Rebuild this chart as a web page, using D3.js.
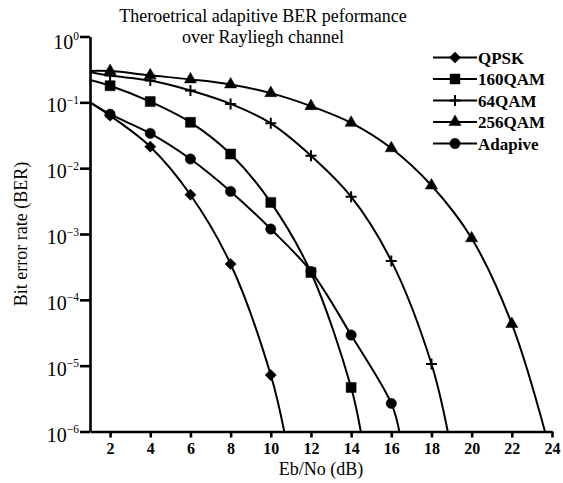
<!DOCTYPE html>
<html>
<head>
<meta charset="utf-8">
<script src="https://cdn.jsdelivr.net/npm/d3@7"></script>
<style>
  body { margin: 0; background: #fff; }
  svg { display: block; }
  text { font-family: "Liberation Serif", "Times New Roman", serif; fill: #000; }
</style>
</head>
<body>
<svg id="chart" width="563" height="483"></svg>
<script>
// Eb/No (dB) sample points and BER for each modulation scheme
const qpskSnr    = [1, 2, 4, 6, 8, 10, 10.67];
const qpskBer    = [0.1, 0.0628, 0.0212, 0.00395, 3.5e-4, 7.2e-6, 1e-6];

const qam16Snr   = [1, 2, 4, 6, 8, 10, 12, 14, 14.48];
const qam16Ber   = [0.219, 0.179, 0.1026, 0.0497, 0.0164, 0.00302, 2.6e-4, 4.67e-6, 1e-6];

const qam64Snr   = [1, 2, 4, 6, 8, 10, 12, 14, 16, 18, 18.81];
const qam64Ber   = [0.29, 0.255, 0.214, 0.151, 0.0946, 0.048, 0.0155, 0.00369, 3.9e-4, 1.06e-5, 1e-6];

const qam256Snr  = [1, 2, 4, 6, 8, 10, 12, 14, 16, 18, 20, 22, 23.65];
const qam256Ber  = [0.3, 0.298, 0.257, 0.223, 0.187, 0.138, 0.0876, 0.0488, 0.0201, 0.00546, 8.6e-4, 4.3e-5, 1e-6];

const adaptSnr   = [1, 2, 4, 6, 8, 10, 12, 14, 16, 16.4];
const adaptBer   = [0.1, 0.066, 0.0338, 0.0138, 0.00444, 0.00119, 2.7e-4, 2.92e-5, 2.67e-6, 1e-6];

const seriesNames = ["QPSK", "160QAM", "64QAM", "256QAM", "Adapive"];
const xTicks = [2, 4, 6, 8, 10, 12, 14, 16, 18, 20, 22, 24];
const yTickExps = [0, -1, -2, -3, -4, -5, -6];
const titleLines = ["Theroetrical adapitive BER peformance", "over Rayliegh channel"];

const svg = d3.select("#chart");
const x = d3.scaleLinear().domain([1, 24]).range([90, 552]);
const y = d3.scaleLog().domain([1e-6, 1]).range([431.5, 36.5]);

// marker shapes
const diamondPath = r => `M0,${-r}L${r},0L0,${r}L${-r},0Z`;
const plusPath = r => `M${-r},0H${r}M0,${-r}V${r}`;
const markers = {
  "QPSK":    { d: diamondPath(5.6), fill: true },
  "160QAM":  { d: d3.symbol(d3.symbolSquare, 100)(), fill: true },
  "64QAM":   { d: plusPath(5.5), fill: false },
  "256QAM":  { d: d3.symbol(d3.symbolTriangle, 64)(), fill: true },
  "Adapive": { d: d3.symbol(d3.symbolCircle, 84)(), fill: true }
};

const series = [
  { name: "QPSK",    snr: qpskSnr,   ber: qpskBer },
  { name: "160QAM",  snr: qam16Snr,  ber: qam16Ber },
  { name: "64QAM",   snr: qam64Snr,  ber: qam64Ber },
  { name: "256QAM",  snr: qam256Snr, ber: qam256Ber },
  { name: "Adapive", snr: adaptSnr,  ber: adaptBer }
];

// title
svg.append("g").selectAll("text").data(titleLines).join("text")
  .attr("x", 263).attr("y", (d, i) => 22 + i * 21)
  .attr("text-anchor", "middle").attr("font-size", 18)
  .text(d => d);

// plot clip
svg.append("clipPath").attr("id", "plotClip").append("rect")
  .attr("x", x.range()[0]).attr("y", y.range()[1])
  .attr("width", x.range()[1] - x.range()[0]).attr("height", y.range()[0] - y.range()[1]);

const plot = svg.append("g").attr("clip-path", "url(#plotClip)");
const line = d3.line().x(d => x(d[0])).y(d => y(d[1])).curve(d3.curveCatmullRom.alpha(0.5));

// adaptive curve drawn first so the fixed schemes sit on top
const drawOrder = ["Adapive", "QPSK", "160QAM", "64QAM", "256QAM"];
drawOrder.forEach(name => {
  const s = series.find(v => v.name === name);
  const pts = s.snr.map((v, i) => [v, s.ber[i]]);
  const g = plot.append("g");
  g.append("path").datum(pts).attr("d", line)
    .attr("fill", "none").attr("stroke", "#000").attr("stroke-width", 2);
  const m = markers[name];
  g.selectAll("path.mk").data(pts.filter(p => p[0] % 2 === 0)).join("path")
    .attr("class", "mk")
    .attr("transform", p => `translate(${x(p[0])},${y(p[1])})`)
    .attr("d", m.d)
    .attr("fill", m.fill ? "#000" : "none")
    .attr("stroke", "#000").attr("stroke-width", m.fill ? 0.5 : 2);
});

// x axis
const xAxis = svg.append("g").attr("transform", `translate(0,${y.range()[0]})`)
  .call(d3.axisBottom(x).tickValues(xTicks).tickSize(6).tickSizeOuter(0).tickPadding(5));
xAxis.select(".domain").attr("stroke-width", 2.6);
xAxis.selectAll(".tick line").attr("stroke-width", 2.6);
xAxis.selectAll(".tick text").attr("font-size", 16).attr("font-weight", "bold")
  .attr("font-family", "'Liberation Serif', serif").attr("fill", "#000");

// y axis
const yAxis = svg.append("g").attr("transform", `translate(${x.range()[0]},0)`)
  .call(d3.axisLeft(y).tickValues(yTickExps.map(e => Math.pow(10, e))).tickSize(10).tickSizeOuter(0).tickFormat(""));
yAxis.select(".domain").attr("stroke-width", 2.6);
yAxis.selectAll(".tick line").attr("stroke-width", 2.6);

const yLab = svg.append("g").selectAll("text").data(yTickExps).join("text")
  .attr("x", 79).attr("y", e => y(Math.pow(10, e)) + (e === 0 ? 12 : 10))
  .attr("text-anchor", "end").attr("font-size", 20);
yLab.append("tspan").text("10");
yLab.append("tspan").attr("font-size", 11.5).attr("dy", -8.5)
  .text(e => e === 0 ? "0" : "\u2212" + Math.abs(e));

// axis titles
svg.append("text").attr("x", (x.range()[0] + x.range()[1]) / 2).attr("y", 475)
  .attr("text-anchor", "middle").attr("font-size", 18).text("Eb/No (dB)");
svg.append("text")
  .attr("transform", `translate(27,${(y.range()[0] + y.range()[1]) / 2}) rotate(-90)`)
  .attr("text-anchor", "middle").attr("font-size", 18).text("Bit error rate (BER)");

// legend
const legend = svg.append("g");
seriesNames.forEach((name, i) => {
  const ly = 57.5 + i * 21.5;
  const g = legend.append("g").attr("transform", `translate(0,${ly})`);
  g.append("line").attr("x1", 433).attr("x2", 477).attr("stroke", "#000").attr("stroke-width", 2);
  const m = markers[name];
  g.append("path").attr("transform", "translate(455,0)").attr("d", m.d)
    .attr("fill", m.fill ? "#000" : "none").attr("stroke", "#000").attr("stroke-width", m.fill ? 0.5 : 2);
  g.append("text").attr("x", 478).attr("y", 6).attr("font-size", 17).attr("font-weight", "bold").text(name);
});
</script>
</body>
</html>
